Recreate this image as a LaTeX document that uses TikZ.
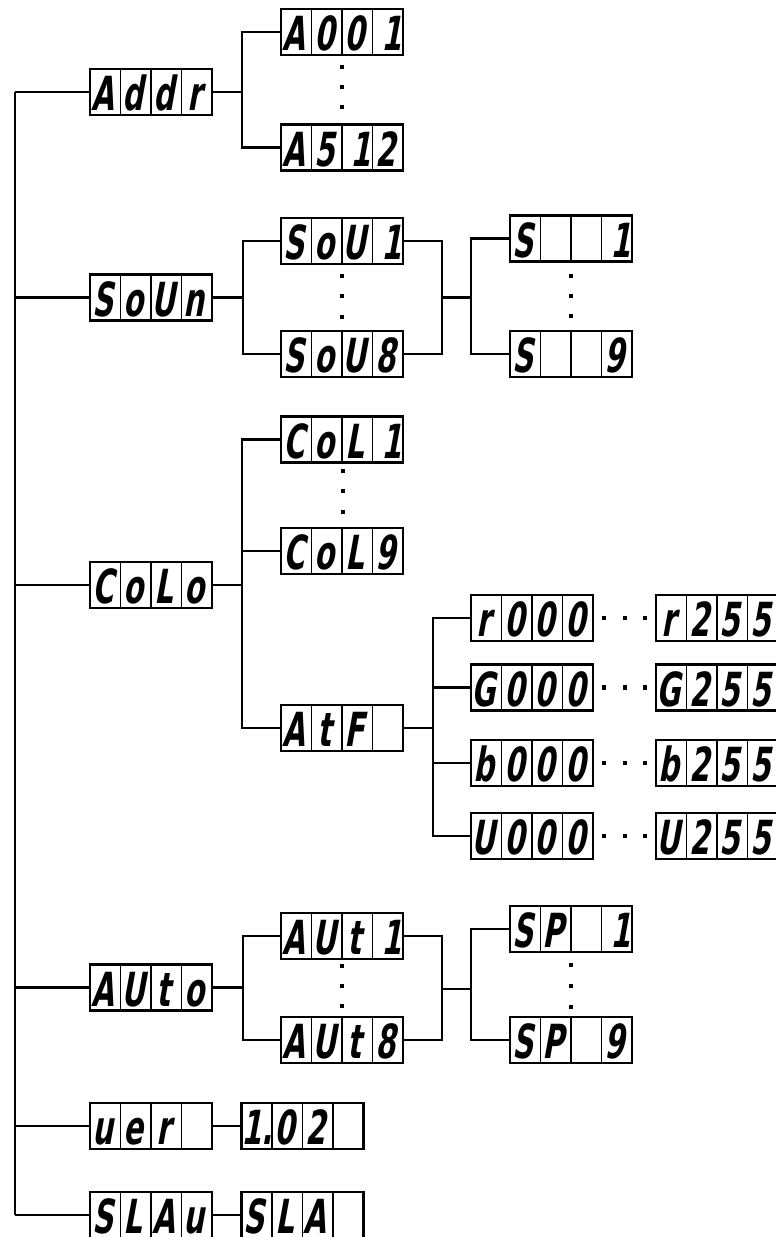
\documentclass[tikz,border=0pt]{standalone}
\usepackage{fontspec}
\usetikzlibrary{calc}
\newfontfamily\segfont[FakeStretch=0.62,FakeSlant=0.18]{DejaVu Sans Bold}
\newcommand\rone{\hspace*{12pt}1}
\tikzset{
  wire/.style={line width=2.2pt},
  lcdbox/.style={rectangle,draw,line width=2.4pt,minimum width=122pt,minimum height=46pt,inner sep=0pt,outer sep=0pt},
  celldiv/.style={line width=1.6pt},
  seg/.style={font=\segfont\fontsize{47}{47}\selectfont,inner sep=0pt,anchor=base},
  segdot/.style={rectangle,fill=black,minimum size=4.5pt,inner sep=0pt}
}
\newcommand\lcd[7]{%
  \node[lcdbox] (#1) at (#2,#3) {};
  \foreach \f in {0.25,0.5,0.75}
    \draw[celldiv] ($(#1.north west)!\f!(#1.north east)$) -- ($(#1.south west)!\f!(#1.south east)$);
  \node[seg] (#1-a) at ($(#1.south west)!0.125!(#1.south east)+(-2.5,-4.5)$) {#4};
  \node[seg] (#1-b) at ($(#1.south west)!0.375!(#1.south east)+(-2.5,-4.5)$) {#5};
  \node[seg] (#1-c) at ($(#1.south west)!0.625!(#1.south east)+(-2.5,-4.5)$) {#6};
  \node[seg] (#1-d) at ($(#1.south west)!0.875!(#1.south east)+(-2.5,-4.5)$) {#7};
}
\begin{document}
\begin{tikzpicture}[x=1pt,y=-1pt]
\useasboundingbox (0,0) rectangle (776,1237);
% level 1
\lcd{addr}{151}{92}{A}{d}{d}{r}
\lcd{soun}{151}{297.5}{S}{o}{U}{n}
\lcd{colo}{151}{585}{C}{o}{L}{o}
\lcd{auto}{151}{987.5}{A}{U}{t}{o}
\lcd{uer}{151}{1126}{u}{e}{r}{}
\lcd{slau}{151}{1215}{S}{L}{A}{u}
% level 2
\lcd{a001}{342}{32}{A}{0}{0}{\rone}
\lcd{a512}{342}{147.5}{A}{5}{\rone}{2}
\lcd{sou1}{342}{241}{S}{o}{U}{\rone}
\lcd{sou8}{342}{354}{S}{o}{U}{8}
\lcd{col1}{342}{439.5}{C}{o}{L}{\rone}
\lcd{col9}{342}{551}{C}{o}{L}{9}
\lcd{atf}{342}{728}{A}{t}{F}{}
\lcd{aut1}{342}{936}{A}{U}{t}{\rone}
\lcd{aut8}{342}{1040}{A}{U}{t}{8}
\lcd{vnum}{302.5}{1126}{\hspace*{6pt}1.}{0}{2}{}
\lcd{sla}{302.5}{1215}{S}{L}{A}{}
% level 3
\lcd{s1}{571}{238.5}{S}{}{}{\rone}
\lcd{s9}{571}{354}{S}{}{}{9}
\lcd{sp1}{571}{929}{S}{P}{}{\rone}
\lcd{sp9}{571}{1040}{S}{P}{}{9}
\lcd{r000}{532}{618}{r}{0}{0}{0}
\lcd{g000}{532}{687.5}{G}{0}{0}{0}
\lcd{b000}{532}{763}{b}{0}{0}{0}
\lcd{u000}{532}{836}{U}{0}{0}{0}
\lcd{r255}{717}{618}{r}{2}{5}{5}
\lcd{g255}{717}{687.5}{G}{2}{5}{5}
\lcd{b255}{717}{763}{b}{2}{5}{5}
\lcd{u255}{717}{836}{U}{2}{5}{5}
% trunk
\coordinate (trunk) at (15,0);
\draw[wire] (addr.west -| trunk) -- (slau.west -| trunk);
\foreach \n in {addr,soun,colo,auto,uer,slau}
  \draw[wire] (\n.west -| trunk) -- (\n.west);
% Addr
\coordinate (addrbus) at (242,92);
\draw[wire] (addr.east) -- (addrbus);
\draw[wire] (a001.west) -| (addrbus);
\draw[wire] (a512.west) -| (addrbus);
% SoUn
\coordinate (sounbus) at (243,297.5);
\draw[wire] (soun.east) -- (sounbus);
\draw[wire] (sou1.west) -| (sounbus);
\draw[wire] (sou8.west) -| (sounbus);
\coordinate (soujoin) at (442,297.5);
\coordinate (sbus) at (471,297.5);
\draw[wire] (sou1.east) -| (soujoin);
\draw[wire] (sou8.east) -| (soujoin);
\draw[wire] (soujoin) -- (sbus);
\draw[wire] (s1.west) -| (sbus);
\draw[wire] (s9.west) -| (sbus);
% CoLo
\coordinate (colbus) at (242,585);
\draw[wire] (colo.east) -- (colbus);
\draw[wire] (col1.west) -| (colbus);
\draw[wire] (col9.west) -| (colbus);
\draw[wire] (atf.west) -| (colbus);
\coordinate (atfbus) at (433,728);
\draw[wire] (atf.east) -- (atfbus);
\foreach \n in {r000,g000,b000,u000}
  \draw[wire] (\n.west) -| (atfbus);
% Auto
\coordinate (autobus) at (243,987.5);
\draw[wire] (auto.east) -- (autobus);
\draw[wire] (aut1.west) -| (autobus);
\draw[wire] (aut8.west) -| (autobus);
\coordinate (autjoin) at (442,989);
\coordinate (spbus) at (471,989);
\draw[wire] (aut1.east) -| (autjoin);
\draw[wire] (aut8.east) -| (autjoin);
\draw[wire] (autjoin) -- (spbus);
\draw[wire] (sp1.west) -| (spbus);
\draw[wire] (sp9.west) -| (spbus);
% ver, slave
\draw[wire] (uer.east) -- (vnum.west);
\draw[wire] (slau.east) -- (sla.west);
% vertical ellipsis dots
\foreach \nm/\x/\ya/\yb/\yc in {da/342/67/87/107, ds/342/276/296/317, dt/571/276/296/316, dc/343/471/491/512, du/342/966/986/1006, dp/571/965/986/1007}{
  \node[segdot] (\nm1) at (\x,\ya) {};
  \node[segdot] (\nm2) at (\x,\yb) {};
  \node[segdot] (\nm3) at (\x,\yc) {};
}
% horizontal ellipsis dots
\foreach \nm/\y in {hr/618,hg/687.5,hb/763,hu/836}{
  \node[segdot] (\nm1) at (604,\y) {};
  \node[segdot] (\nm2) at (625,\y) {};
  \node[segdot] (\nm3) at (645,\y) {};
}
\end{tikzpicture}
\end{document}
